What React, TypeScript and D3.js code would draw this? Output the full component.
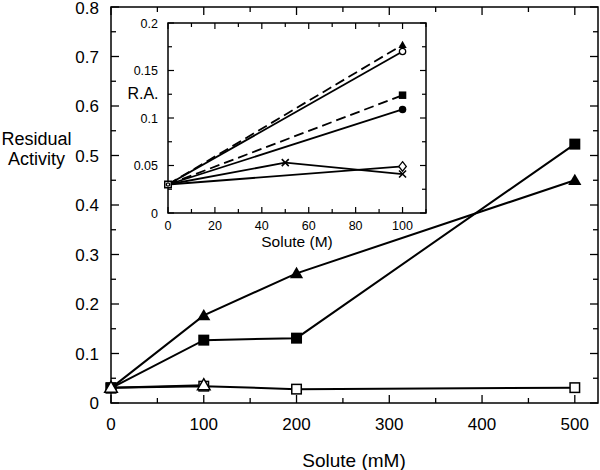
import React from "react";
import * as d3 from "d3";

// Main chart data
const mainX = [0, 100, 200, 500];
const filledTriangle = [0.03, 0.177, 0.262, 0.45];
const filledSquare = [0.03, 0.127, 0.131, 0.523];
const openSquare = [0.031, 0.034, 0.028, 0.031];
const openTriangleX = [0, 100];
const openTriangle = [0.031, 0.036];

const mainXTicks = [0, 100, 200, 300, 400, 500];
const mainYTicks = [0, 0.1, 0.2, 0.3, 0.4, 0.5, 0.6, 0.7, 0.8];

// Inset data (shared start value at x = 0)
const insetStart = 0.03;
const insetFilledTriangle = [[0, 0.03], [100, 0.177]];
const insetOpenCircle = [[0, 0.03], [100, 0.170]];
const insetFilledSquare = [[0, 0.03], [100, 0.124]];
const insetFilledCircle = [[0, 0.03], [100, 0.109]];
const insetOpenDiamond = [[0, 0.03], [100, 0.049]];
const insetCross = [[0, 0.03], [50, 0.053], [100, 0.041]];

const insetXTicks = [0, 20, 40, 60, 80, 100];
const insetYTicks = [0, 0.05, 0.1, 0.15, 0.2];

const FONT = "'Liberation Sans', Arial, Helvetica, sans-serif";

function Marker({ type, x, y, s }: { type: string; x: number; y: number; s: number }) {
  const h = s / 2;
  switch (type) {
    case "fsq":
      return <rect x={x - h} y={y - h} width={s} height={s} fill="#000" />;
    case "osq":
      return <rect x={x - h + 0.75} y={y - h + 0.75} width={s - 1.5} height={s - 1.5} fill="#fff" stroke="#000" strokeWidth={1.5} />;
    case "ftri": {
      const th = s * 0.9;
      return <path d={`M${x},${y - th * 0.6}L${x + h * 1.1},${y + th * 0.45}L${x - h * 1.1},${y + th * 0.45}Z`} fill="#000" />;
    }
    case "otri": {
      const th = s * 0.9;
      return <path d={`M${x},${y - th * 0.6}L${x + h * 1.05},${y + th * 0.42}L${x - h * 1.05},${y + th * 0.42}Z`} fill="#fff" stroke="#000" strokeWidth={1.5} />;
    }
    case "fcir":
      return <circle cx={x} cy={y} r={h} fill="#000" />;
    case "ocir":
      return <circle cx={x} cy={y} r={h - 0.6} fill="#fff" stroke="#000" strokeWidth={1.3} />;
    case "odia":
      return <path d={`M${x},${y - h - 1}L${x + h},${y}L${x},${y + h + 1}L${x - h},${y}Z`} fill="#fff" stroke="#000" strokeWidth={1.3} />;
    case "x":
      return (
        <path d={`M${x - h},${y - h}L${x + h},${y + h}M${x - h},${y + h}L${x + h},${y - h}`} stroke="#000" strokeWidth={1.6} fill="none" />
      );
  }
  return null;
}

export default function App() {
  const W = 600, H = 470;
  const x = d3.scaleLinear().domain([0, 525]).range([111, 598]);
  const y = d3.scaleLinear().domain([0, 0.8]).range([403, 7]);

  const ix = d3.scaleLinear().domain([0, 110]).range([168, 426]);
  const iy = d3.scaleLinear().domain([0, 0.2]).range([213, 23]);

  const line = d3.line<[number, number]>().x((d) => x(d[0])).y((d) => y(d[1]));
  const iline = d3.line<number[]>().x((d) => ix(d[0])).y((d) => iy(d[1]));

  const mainSeries = [
    { xs: mainX, ys: openSquare, m: "osq" },
    { xs: mainX, ys: filledSquare, m: "fsq" },
    { xs: mainX, ys: filledTriangle, m: "ftri" },
    { xs: openTriangleX, ys: openTriangle, m: "otri" },
  ];

  const insetSeries = [
    { pts: insetFilledTriangle, m: "ftri", dash: true },
    { pts: insetOpenCircle, m: "ocir", dash: false },
    { pts: insetFilledSquare, m: "fsq", dash: true },
    { pts: insetFilledCircle, m: "fcir", dash: false },
    { pts: insetOpenDiamond, m: "odia", dash: false },
    { pts: insetCross, m: "x", dash: false },
  ];

  const xMinor = d3.range(0, 525, 50);
  const yMinor = d3.range(0, 0.8001, 0.05);
  const ixMinor = d3.range(0, 110.01, 10);
  const iyMinor = d3.range(0, 0.2001, 0.025);

  const L = 111, R = 598, T = 7, B = 403;
  const iL = 168, iR = 426, iT = 23, iB = 213;

  return (
    <svg width={W} height={H} style={{ position: "absolute", left: 0, top: 0, background: "#fff" }} fontFamily={FONT}>
      <rect x={0} y={0} width={W} height={H} fill="#fff" />
      {/* main ticks */}
      {xMinor.map((v) => {
        const len = v % 100 === 0 ? 8 : 5;
        return (
          <g key={"xm" + v}>
            <line x1={x(v)} x2={x(v)} y1={B} y2={B - len} stroke="#000" strokeWidth={1.3} />
            <line x1={x(v)} x2={x(v)} y1={T} y2={T + len} stroke="#000" strokeWidth={1.3} />
          </g>
        );
      })}
      {yMinor.map((v, i) => {
        const len = i % 2 === 0 ? 8 : 5;
        return (
          <g key={"ym" + i}>
            <line x1={L} x2={L + len} y1={y(v)} y2={y(v)} stroke="#000" strokeWidth={1.3} />
            <line x1={R} x2={R - len} y1={y(v)} y2={y(v)} stroke="#000" strokeWidth={1.3} />
          </g>
        );
      })}
      <rect x={L} y={T} width={R - L} height={B - T} fill="none" stroke="#000" strokeWidth={1.5} />
      {mainXTicks.map((v) => (
        <text key={"xt" + v} x={x(v)} y={430} fontSize={17} textAnchor="middle" fill="#000">{v}</text>
      ))}
      {mainYTicks.map((v) => (
        <text key={"yt" + v} x={99} y={Math.max(y(v) + 6, 14)} fontSize={17} textAnchor="end" fill="#000">{v === 0 ? "0" : v.toFixed(1)}</text>
      ))}
      <text x={354} y={467} fontSize={19} textAnchor="middle" fill="#000">Solute (mM)</text>
      <text x={36.5} y={145} fontSize={18} textAnchor="middle" fill="#000">Residual</text>
      <text x={36.5} y={165} fontSize={18} textAnchor="middle" fill="#000">Activity</text>

      {/* main series */}
      {mainSeries.map((s, i) => (
        <path key={"ml" + i} d={line(s.xs.map((v, j) => [v, s.ys[j]] as [number, number])) || ""} fill="none" stroke="#000" strokeWidth={2} />
      ))}
      {mainSeries.map((s, i) =>
        s.xs.map((v, j) => <Marker key={"mm" + i + "-" + j} type={s.m} x={x(v)} y={y(s.ys[j])} s={s.m.includes("tri") ? 12 : 11} />)
      )}

      {/* inset */}
      <rect x={iL} y={iT} width={iR - iL} height={iB - iT} fill="#fff" stroke="#000" strokeWidth={1.5} />
      {ixMinor.map((v) => {
        const len = v % 20 === 0 ? 6 : 4;
        return (
          <g key={"ixm" + v}>
            <line x1={ix(v)} x2={ix(v)} y1={iB} y2={iB - len} stroke="#000" strokeWidth={1.2} />
            <line x1={ix(v)} x2={ix(v)} y1={iT} y2={iT + len} stroke="#000" strokeWidth={1.2} />
          </g>
        );
      })}
      {iyMinor.map((v, i) => {
        const len = i % 2 === 0 ? 6 : 4;
        return (
          <g key={"iym" + i}>
            <line x1={iL} x2={iL + len} y1={iy(v)} y2={iy(v)} stroke="#000" strokeWidth={1.2} />
            <line x1={iR} x2={iR - len} y1={iy(v)} y2={iy(v)} stroke="#000" strokeWidth={1.2} />
          </g>
        );
      })}
      {insetXTicks.map((v) => (
        <text key={"ixt" + v} x={ix(v)} y={230} fontSize={12.5} textAnchor="middle" fill="#000">{v}</text>
      ))}
      {insetYTicks.map((v) => (
        <text key={"iyt" + v} x={158} y={iy(v) + 4.5} fontSize={12.5} textAnchor="end" fill="#000">{v === 0 ? "0" : String(v)}</text>
      ))}
      <text x={297} y={247} fontSize={15.5} textAnchor="middle" fill="#000">Solute (M)</text>
      <text x={143} y={99} fontSize={16} textAnchor="middle" fill="#000">R.A.</text>

      {insetSeries.map((s, i) => (
        <path key={"il" + i} d={iline(s.pts) || ""} fill="none" stroke="#000" strokeWidth={1.8} strokeDasharray={s.dash ? "10,5" : undefined} />
      ))}
      {insetSeries.map((s, i) =>
        s.pts.filter((p) => p[0] > 0).map((p, j) => (
          <Marker key={"im" + i + "-" + j} type={s.m} x={ix(p[0])} y={iy(p[1])} s={s.m === "x" ? 7 : 7.5} />
        ))
      )}
      <Marker type="osq" x={ix(0)} y={iy(insetStart)} s={8} />
      <Marker type="ocir" x={ix(0)} y={iy(insetStart)} s={4.5} />
    </svg>
  );
}
